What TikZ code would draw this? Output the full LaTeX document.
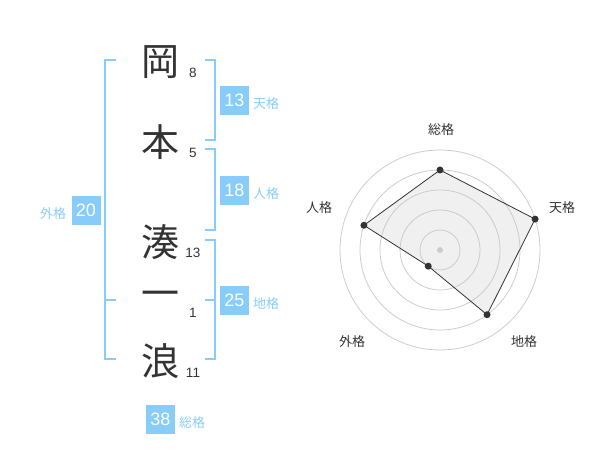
\documentclass[tikz,border=0pt]{standalone}
\usepackage{fontspec}
\setmainfont{Liberation Sans}
\newfontfamily\jp{Noto Sans CJK JP}
\usepackage{xcolor}
\usepackage{tikz}
\usetikzlibrary{calc}
\definecolor{kakublue}{HTML}{88CCFA}
\definecolor{textgray}{HTML}{333333}
\definecolor{ringgray}{HTML}{CCCCCC}
\definecolor{areagray}{HTML}{F0F0F0}
\tikzset{kanji/.style={font=\jp\fontsize{38}{38}\selectfont,text=textgray,inner sep=0pt},
	strokes/.style={font=\fontsize{13.5}{13.5}\selectfont,text=textgray,inner sep=0pt},
	kakubox/.style={fill=kakublue,text=white,minimum size=29pt,inner sep=0pt,font=\fontsize{18}{18}\selectfont},
	kakulabel/.style={font=\jp\fontsize{13}{13}\selectfont,text=kakublue,inner sep=0pt},
	bracket/.style={draw=kakublue,line width=2pt},
	ring/.style={draw=ringgray,line width=0.8pt},
	vertex/.style={circle,fill=textgray,inner sep=0pt,minimum size=7pt},
	axislabel/.style={font=\jp\fontsize{13}{13}\selectfont,text=textgray,inner sep=0pt}}

\begin{document}
\begin{tikzpicture}[x=1pt,y=-1pt]
	\useasboundingbox (0,0) rectangle (600,470);
	% name
	\node[kanji] (oka) at (160,62) {岡};
	\node[kanji] (moto) at (160,142) {本};
	\node[kanji] (minato) at (160,242) {湊};
	\node[kanji] (ichi) at (160,299) {一};
	\node[kanji] (nami) at (160,361) {浪};
	\node[strokes] (s8) at (193,73) {8};
	\node[strokes] (s5) at (193,153) {5};
	\node[strokes] (s13) at (193,253) {13};
	\node[strokes] (s1) at (193,313) {1};
	\node[strokes] (s11) at (193,373) {11};
	%
	\draw[bracket] (116,60) -- (105,60) -- (105,359) -- (116,359);
	\draw[bracket] (105,300) -- (116,300);
	\draw[bracket] (205,60) -- (215,60) -- (215,140) -- (205,140);
	\draw[bracket] (205,149) -- (215,149) -- (215,230) -- (205,230);
	\draw[bracket] (205,240) -- (215,240) -- (215,359) -- (205,359);
	\draw[bracket] (205,300) -- (215,300);
	%
	\node[kakubox] (ten) at (234.5,100.5) {13};
	\node[kakulabel] (tenL) at (266,104) {天格};
	\node[kakubox] (jin) at (234.5,190.5) {18};
	\node[kakulabel] (jinL) at (266,194) {人格};
	\node[kakubox] (gai) at (86,210.5) {20};
	\node[kakulabel] (gaiL) at (53,213.5) {外格};
	\node[kakubox] (chi) at (234.5,300.5) {25};
	\node[kakulabel] (chiL) at (266,304) {地格};
	\node[kakubox] (sou) at (160.5,419) {38};
	\node[kakulabel] (souL) at (192,422.5) {総格};
	% chart
	\coordinate (C) at (440,250);
	\coordinate (pSou) at ($(C)+(90:80pt)$);
	\coordinate (pTen) at ($(C)+(18:100pt)$);
	\coordinate (pChi) at ($(C)+(-54:80pt)$);
	\coordinate (pGai) at ($(C)+(234:20pt)$);
	\coordinate (pJin) at ($(C)+(162:80pt)$);
	\fill[areagray] (pSou) -- (pTen) -- (pChi) -- (pGai) -- (pJin) -- cycle;
	\foreach \r in {20,40,60,80,100}
		\draw[ring] (C) circle (\r pt);
	\fill[ringgray] (C) circle (3pt);
	\draw[textgray,line width=0.8pt] (pSou) -- (pTen) -- (pChi) -- (pGai) -- (pJin) -- cycle;
	\foreach \p in {pSou,pTen,pChi,pGai,pJin}
		\node[vertex] at (\p) {};
	\node[axislabel] (aSou) at (441,130) {総格};
	\node[axislabel] (aTen) at (562,208) {天格};
	\node[axislabel] (aJin) at (319,208) {人格};
	\node[axislabel] (aGai) at (352,342) {外格};
	\node[axislabel] (aChi) at (524,342) {地格};
\end{tikzpicture}
\end{document}
